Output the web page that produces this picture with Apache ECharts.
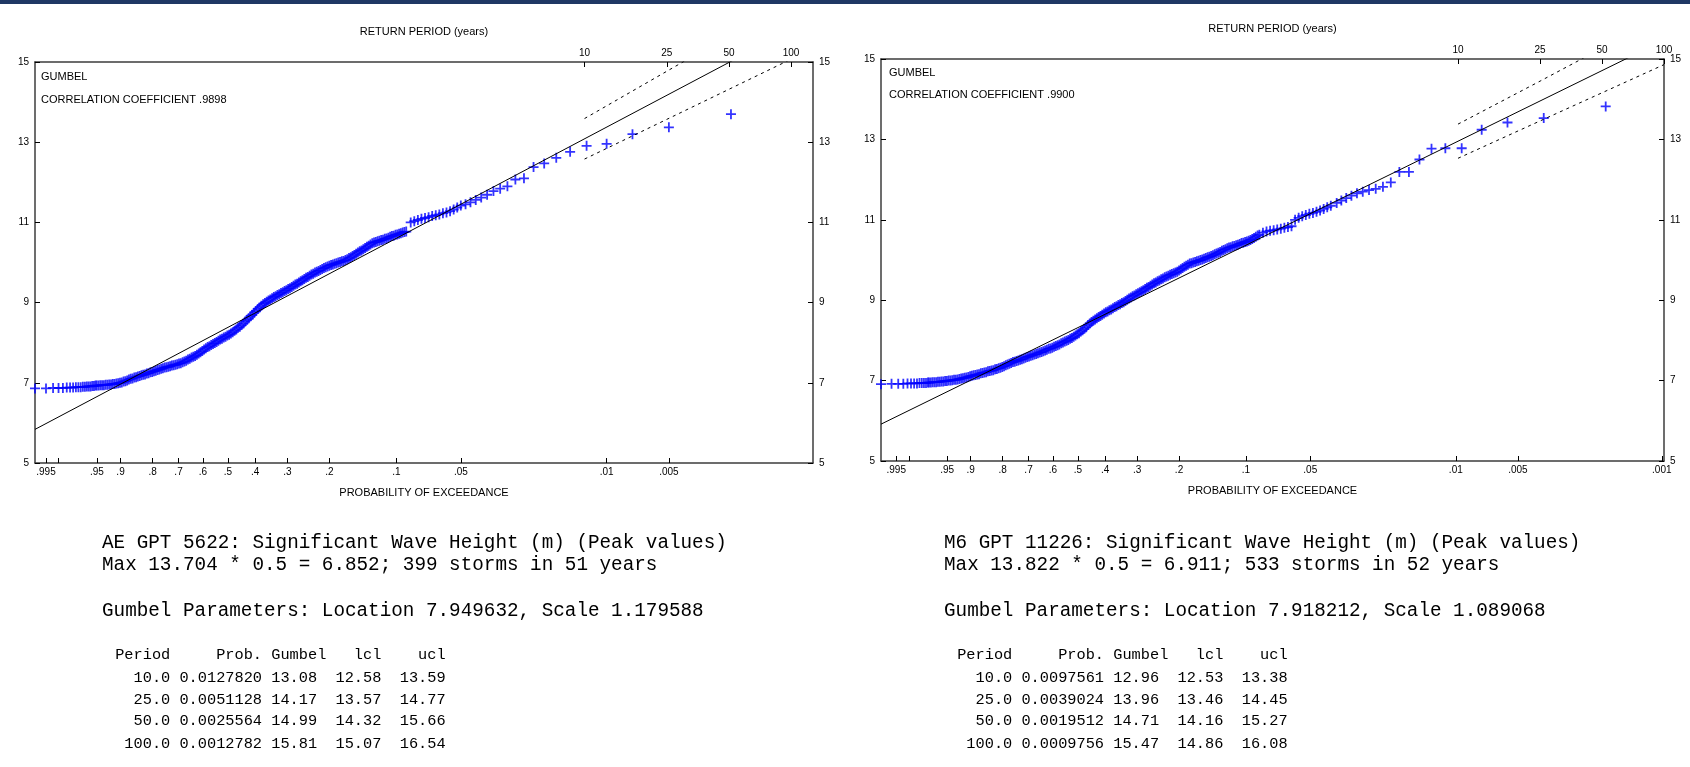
<!DOCTYPE html>
<html>
<head>
<meta charset="utf-8">
<script src="https://cdn.jsdelivr.net/npm/echarts@6/dist/echarts.min.js"></script>
<style>
html, body { margin: 0; padding: 0; background: #fff; }
#main { width: 1690px; height: 767px; }
</style>
</head>
<body>
<div id="main"></div>
<script>
// probability of exceedance ticks on the bottom axis
var probTicks = [0.995, 0.99, 0.95, 0.9, 0.8, 0.7, 0.6, 0.5, 0.4, 0.3, 0.2, 0.1, 0.05, 0.01, 0.005, 0.001];
var probLabels = ['.995', '', '.95', '.9', '.8', '.7', '.6', '.5', '.4', '.3', '.2', '.1', '.05', '.01', '.005', '.001'];
var returnPeriods = [10, 25, 50, 100];

// AE GPT 5622  [gumbel reduced variate, Hs (m)]
var aePoints = [
  [-1.790, 6.86], [-1.667, 6.86], [-1.588, 6.87], [-1.527, 6.87], [-1.478, 6.87], [-1.435, 6.88], [-1.398, 6.88],
  [-1.364, 6.88], [-1.333, 6.89], [-1.305, 6.89], [-1.279, 6.89], [-1.255, 6.90], [-1.232, 6.90], [-1.210, 6.91],
  [-1.189, 6.91], [-1.169, 6.91], [-1.150, 6.92], [-1.131, 6.92], [-1.114, 6.93],
  [-1.10, 6.93], [-1.08, 6.93], [-1.06, 6.94], [-1.04, 6.94], [-1.02, 6.94], [-1.00, 6.95], [-0.98, 6.95],
  [-0.96, 6.96], [-0.94, 6.96], [-0.92, 6.97], [-0.90, 6.97], [-0.88, 6.98], [-0.86, 6.99], [-0.84, 7.00],
  [-0.82, 7.01], [-0.80, 7.03], [-0.78, 7.04], [-0.76, 7.06], [-0.74, 7.08], [-0.72, 7.10], [-0.70, 7.11],
  [-0.68, 7.13], [-0.66, 7.14], [-0.64, 7.16], [-0.62, 7.17], [-0.60, 7.19], [-0.58, 7.20], [-0.56, 7.21],
  [-0.54, 7.23], [-0.52, 7.24], [-0.50, 7.26], [-0.48, 7.27], [-0.46, 7.29], [-0.44, 7.30], [-0.42, 7.32],
  [-0.40, 7.33], [-0.38, 7.35], [-0.36, 7.36], [-0.34, 7.38], [-0.32, 7.39], [-0.30, 7.40], [-0.28, 7.41],
  [-0.26, 7.43], [-0.24, 7.44], [-0.22, 7.45], [-0.20, 7.46], [-0.18, 7.48], [-0.16, 7.49], [-0.14, 7.51],
  [-0.12, 7.53], [-0.10, 7.55], [-0.08, 7.58], [-0.06, 7.60], [-0.04, 7.63], [-0.02, 7.65], [0.00, 7.67],
  [0.02, 7.70], [0.04, 7.73], [0.06, 7.76], [0.08, 7.79], [0.10, 7.83], [0.12, 7.86], [0.14, 7.89], [0.16, 7.91],
  [0.18, 7.94], [0.20, 7.97], [0.22, 7.99], [0.24, 8.02], [0.26, 8.05], [0.28, 8.08], [0.30, 8.10], [0.32, 8.13],
  [0.34, 8.15], [0.36, 8.18], [0.38, 8.20], [0.40, 8.23], [0.42, 8.26], [0.44, 8.30], [0.46, 8.33], [0.48, 8.37],
  [0.50, 8.40], [0.52, 8.44], [0.54, 8.48], [0.56, 8.53], [0.58, 8.57], [0.60, 8.61], [0.62, 8.66], [0.64, 8.70],
  [0.66, 8.75], [0.68, 8.79], [0.70, 8.84], [0.72, 8.88], [0.74, 8.92], [0.76, 8.96], [0.78, 8.99], [0.80, 9.02],
  [0.82, 9.05], [0.84, 9.08], [0.86, 9.11], [0.88, 9.14], [0.90, 9.16], [0.92, 9.19], [0.94, 9.21], [0.96, 9.24],
  [0.98, 9.26], [1.00, 9.29], [1.02, 9.31], [1.04, 9.34], [1.06, 9.36], [1.08, 9.39], [1.10, 9.42], [1.12, 9.45],
  [1.14, 9.47], [1.16, 9.50], [1.18, 9.53], [1.20, 9.56], [1.22, 9.59], [1.24, 9.62], [1.26, 9.64], [1.28, 9.67],
  [1.30, 9.70], [1.32, 9.72], [1.34, 9.75], [1.36, 9.77], [1.38, 9.79], [1.40, 9.81], [1.42, 9.84], [1.44, 9.86],
  [1.46, 9.88], [1.48, 9.90], [1.50, 9.92], [1.52, 9.94], [1.54, 9.95], [1.56, 9.97], [1.58, 9.98], [1.60, 10.00],
  [1.62, 10.01], [1.64, 10.03], [1.66, 10.04], [1.68, 10.06], [1.70, 10.08], [1.72, 10.11], [1.74, 10.13],
  [1.76, 10.16], [1.78, 10.19], [1.80, 10.22], [1.82, 10.25], [1.84, 10.28], [1.86, 10.30], [1.88, 10.33],
  [1.90, 10.36], [1.92, 10.39], [1.94, 10.42], [1.96, 10.45], [1.98, 10.48], [2.00, 10.50], [2.02, 10.51],
  [2.04, 10.53], [2.06, 10.54], [2.08, 10.56], [2.10, 10.57], [2.12, 10.59], [2.14, 10.60], [2.16, 10.62],
  [2.18, 10.64], [2.20, 10.66], [2.22, 10.67], [2.24, 10.69], [2.26, 10.70], [2.28, 10.72], [2.30, 10.73],
  [2.32, 10.75], [2.34, 10.76], [2.36, 10.77],
  [2.41, 11.00], [2.45, 11.03], [2.49, 11.06], [2.53, 11.09], [2.57, 11.11], [2.61, 11.13], [2.65, 11.16],
  [2.69, 11.18], [2.73, 11.20], [2.77, 11.23], [2.81, 11.25], [2.85, 11.28], [2.89, 11.32], [2.93, 11.37],
  [2.970, 11.42], [3.023, 11.45], [3.078, 11.50], [3.137, 11.56], [3.198, 11.62], [3.264, 11.69], [3.335, 11.78],
  [3.410, 11.84], [3.491, 11.90], [3.580, 12.07], [3.676, 12.10], [3.783, 12.38], [3.902, 12.47], [4.037, 12.61],
  [4.192, 12.76], [4.376, 12.91], [4.600, 12.96], [4.889, 13.20], [5.296, 13.37], [5.990, 13.70]
];

// M6 GPT 11226
var m6Points = [
  [-1.838, 6.91], [-1.720, 6.92], [-1.645, 6.92], [-1.588, 6.92], [-1.541, 6.93], [-1.502, 6.93], [-1.467, 6.93],
  [-1.435, 6.93], [-1.407, 6.94], [-1.381, 6.94], [-1.357, 6.94], [-1.334, 6.94], [-1.313, 6.95],
  [-1.30, 6.95], [-1.28, 6.95], [-1.26, 6.96], [-1.24, 6.96], [-1.22, 6.96], [-1.20, 6.97], [-1.18, 6.97],
  [-1.16, 6.98], [-1.14, 6.98], [-1.12, 6.99], [-1.10, 6.99], [-1.08, 7.00], [-1.06, 7.00], [-1.04, 7.01],
  [-1.02, 7.02], [-1.00, 7.02], [-0.98, 7.03], [-0.96, 7.04], [-0.94, 7.05], [-0.92, 7.06], [-0.90, 7.07],
  [-0.88, 7.08], [-0.86, 7.09], [-0.84, 7.11], [-0.82, 7.12], [-0.80, 7.13], [-0.78, 7.14], [-0.76, 7.15],
  [-0.74, 7.16], [-0.72, 7.18], [-0.70, 7.19], [-0.68, 7.20], [-0.66, 7.21], [-0.64, 7.23], [-0.62, 7.24],
  [-0.60, 7.25], [-0.58, 7.26], [-0.56, 7.28], [-0.54, 7.29], [-0.52, 7.31], [-0.50, 7.32], [-0.48, 7.34],
  [-0.46, 7.36], [-0.44, 7.38], [-0.42, 7.40], [-0.40, 7.42], [-0.38, 7.44], [-0.36, 7.46], [-0.34, 7.47],
  [-0.32, 7.49], [-0.30, 7.50], [-0.28, 7.52], [-0.26, 7.53], [-0.24, 7.55], [-0.22, 7.57], [-0.20, 7.59],
  [-0.18, 7.60], [-0.16, 7.62], [-0.14, 7.63], [-0.12, 7.65], [-0.10, 7.66], [-0.08, 7.68], [-0.06, 7.70],
  [-0.04, 7.71], [-0.02, 7.73], [0.00, 7.75], [0.02, 7.77], [0.04, 7.79], [0.06, 7.80], [0.08, 7.82],
  [0.10, 7.84], [0.12, 7.86], [0.14, 7.88], [0.16, 7.90], [0.18, 7.93], [0.20, 7.95], [0.22, 7.97], [0.24, 7.99],
  [0.26, 8.01], [0.28, 8.04], [0.30, 8.06], [0.32, 8.09], [0.34, 8.12], [0.36, 8.15], [0.38, 8.18], [0.40, 8.22],
  [0.42, 8.25], [0.44, 8.29], [0.46, 8.33], [0.48, 8.38], [0.50, 8.42], [0.52, 8.46], [0.54, 8.49], [0.56, 8.52],
  [0.58, 8.55], [0.60, 8.58], [0.62, 8.61], [0.64, 8.64], [0.66, 8.67], [0.68, 8.70], [0.70, 8.72], [0.72, 8.75],
  [0.74, 8.77], [0.76, 8.80], [0.78, 8.83], [0.80, 8.85], [0.82, 8.88], [0.84, 8.90], [0.86, 8.93], [0.88, 8.95],
  [0.90, 8.98], [0.92, 9.01], [0.94, 9.04], [0.96, 9.07], [0.98, 9.10], [1.00, 9.12], [1.02, 9.15], [1.04, 9.17],
  [1.06, 9.20], [1.08, 9.22], [1.10, 9.25], [1.12, 9.28], [1.14, 9.31], [1.16, 9.33], [1.18, 9.36], [1.20, 9.39],
  [1.22, 9.42], [1.24, 9.44], [1.26, 9.47], [1.28, 9.49], [1.30, 9.52], [1.32, 9.54], [1.34, 9.57], [1.36, 9.59],
  [1.38, 9.61], [1.40, 9.63], [1.42, 9.65], [1.44, 9.67], [1.46, 9.69], [1.48, 9.71], [1.50, 9.74], [1.52, 9.77],
  [1.54, 9.80], [1.56, 9.83], [1.58, 9.86], [1.60, 9.88], [1.62, 9.91], [1.64, 9.92], [1.66, 9.94], [1.68, 9.95],
  [1.70, 9.97], [1.72, 9.98], [1.74, 10.00], [1.76, 10.01], [1.78, 10.03], [1.80, 10.05], [1.82, 10.07],
  [1.84, 10.08], [1.86, 10.10], [1.88, 10.12], [1.90, 10.14], [1.92, 10.16], [1.94, 10.18], [1.96, 10.20],
  [1.98, 10.23], [2.00, 10.25], [2.02, 10.27], [2.04, 10.29], [2.06, 10.31], [2.08, 10.32], [2.10, 10.34],
  [2.12, 10.35], [2.14, 10.37], [2.16, 10.38], [2.18, 10.40], [2.20, 10.42], [2.22, 10.43], [2.24, 10.45],
  [2.26, 10.46], [2.28, 10.48], [2.30, 10.50], [2.32, 10.52], [2.34, 10.55], [2.36, 10.58], [2.38, 10.61],
  [2.40, 10.63], [2.44, 10.68], [2.48, 10.71], [2.52, 10.73], [2.56, 10.74], [2.60, 10.76], [2.64, 10.78],
  [2.68, 10.80], [2.72, 10.82], [2.76, 10.84], [2.80, 11.00], [2.84, 11.05], [2.88, 11.09], [2.92, 11.12],
  [2.96, 11.15], [3.00, 11.17], [3.04, 11.20], [3.08, 11.23], [3.12, 11.27], [3.16, 11.31], [3.20, 11.35],
  [3.266, 11.42], [3.318, 11.48], [3.373, 11.54], [3.431, 11.60], [3.493, 11.66], [3.558, 11.70], [3.628, 11.74],
  [3.703, 11.77], [3.784, 11.82], [3.872, 11.93], [3.968, 12.19], [4.075, 12.19], [4.193, 12.50], [4.328, 12.77],
  [4.483, 12.78], [4.666, 12.78], [4.890, 13.24], [5.179, 13.42], [5.585, 13.53], [6.279, 13.82]
];

// fitted parameters and return level tables
var aeGumbel = { location: 7.949632, scale: 1.179588 };
var aeProb = [0.0127820, 0.0051128, 0.0025564, 0.0012782];
var aeLevel = [13.08, 14.17, 14.99, 15.81];
var aeLcl = [12.58, 13.57, 14.32, 15.07];
var aeUcl = [13.59, 14.77, 15.66, 16.54];

var m6Gumbel = { location: 7.918212, scale: 1.089068 };
var m6Prob = [0.0097561, 0.0039024, 0.0019512, 0.0009756];
var m6Level = [12.96, 13.96, 14.71, 15.47];
var m6Lcl = [12.53, 13.46, 14.16, 14.86];
var m6Ucl = [13.38, 14.45, 15.27, 16.08];

var aeText = [
  'AE GPT 5622: Significant Wave Height (m) (Peak values)',
  'Max 13.704 * 0.5 = 6.852; 399 storms in 51 years',
  'Gumbel Parameters: Location 7.949632, Scale 1.179588'
];
var m6Text = [
  'M6 GPT 11226: Significant Wave Height (m) (Peak values)',
  'Max 13.822 * 0.5 = 6.911; 533 storms in 52 years',
  'Gumbel Parameters: Location 7.918212, Scale 1.089068'
];

function variate(p) {
  return -Math.log(-Math.log(1 - p));
}

var sans = '"Liberation Sans", Arial, sans-serif';
var mono = '"Liberation Mono", "Courier New", monospace';
var axisColor = '#3c3c3c';

var chartDom = document.getElementById('main');
var myChart = echarts.init(chartDom);

function buildAxes(g, xmin, xmax, probs) {
  var tickVals = probTicks.map(variate);
  var labelVals = [];
  var labelText = [];
  probTicks.forEach(function (p, i) {
    if (probLabels[i]) { labelVals.push(variate(p)); labelText.push(probLabels[i]); }
  });
  var topVals = probs.map(variate);
  function lookup(vals, texts, v) {
    for (var i = 0; i < vals.length; i++) {
      if (Math.abs(vals[i] - v) < 1e-6) return texts[i];
    }
    return '';
  }
  var line = { show: true, onZero: false, lineStyle: { color: axisColor, width: 1.5 } };
  var tick = { show: true, inside: true, length: 5, lineStyle: { color: '#000', width: 1 } };
  var xBottom = {
    type: 'value', gridIndex: g, position: 'bottom', min: xmin, max: xmax,
    name: 'PROBABILITY OF EXCEEDANCE', nameLocation: 'middle', nameGap: 24,
    nameTextStyle: { fontFamily: sans, fontSize: 11, color: '#000' },
    axisLine: line,
    axisTick: Object.assign({ customValues: tickVals }, tick),
    axisLabel: {
      customValues: labelVals, margin: 4, fontFamily: sans, fontSize: 10, color: '#000',
      formatter: function (v) { return lookup(labelVals, labelText, v); }
    },
    splitLine: { show: false }
  };
  var xTop = {
    type: 'value', gridIndex: g, position: 'top', min: xmin, max: xmax,
    name: 'RETURN PERIOD (years)', nameLocation: 'middle', nameGap: 25,
    nameTextStyle: { fontFamily: sans, fontSize: 11, color: '#000' },
    axisLine: line,
    axisTick: Object.assign({ customValues: topVals }, tick),
    axisLabel: {
      customValues: topVals, margin: 4, fontFamily: sans, fontSize: 10, color: '#000',
      formatter: function (v) { return lookup(topVals, returnPeriods.map(String), v); }
    },
    splitLine: { show: false }
  };
  function yAxis(pos) {
    return {
      type: 'value', gridIndex: g, position: pos, min: 5, max: 15, interval: 2,
      axisLine: line, axisTick: tick,
      axisLabel: { margin: 6, fontFamily: sans, fontSize: 10, color: '#000' },
      splitLine: { show: false }
    };
  }
  return { x: [xBottom, xTop], y: [yAxis('left'), yAxis('right')] };
}

var plusSymbol = 'path://M4.1,0h1.8v10h-1.8zM0,4.1h10v1.8h-10z';

function buildSeries(axisIdx, points, fit, xmin, xmax, probs, lcl, ucl) {
  var fitLine = [xmin, xmax].map(function (v) { return [v, fit.location + fit.scale * v]; });
  var lower = probs.map(function (p, i) { return [variate(p), lcl[i]]; });
  var upper = probs.map(function (p, i) { return [variate(p), ucl[i]]; });
  var base = { xAxisIndex: axisIdx.x, yAxisIndex: axisIdx.y, silent: true };
  return [
    Object.assign({
      type: 'scatter', data: points, symbol: plusSymbol, symbolSize: 10,
      itemStyle: { color: '#0000ff' }, z: 2
    }, base),
    Object.assign({
      type: 'line', data: fitLine, symbol: 'none', clip: true,
      lineStyle: { color: '#000', width: 1 }, z: 3
    }, base),
    Object.assign({
      type: 'line', data: lower, symbol: 'none', clip: true,
      lineStyle: { color: '#000', width: 1, type: [3, 4] }, z: 3
    }, base),
    Object.assign({
      type: 'line', data: upper, symbol: 'none', clip: true,
      lineStyle: { color: '#000', width: 1, type: [3, 4] }, z: 3
    }, base)
  ];
}

function tableLines(probs, level, lcl, ucl) {
  var lines = [' Period     Prob. Gumbel   lcl    ucl'];
  returnPeriods.forEach(function (t, i) {
    lines.push(t.toFixed(1).padStart(7) + ' ' + probs[i].toFixed(7) + ' ' +
      level[i].toFixed(2).padStart(5) + lcl[i].toFixed(2).padStart(7) + ucl[i].toFixed(2).padStart(7));
  });
  return lines;
}

function textBlock(x, tableX, header, table) {
  var ys = [543, 565, 611];
  var rowYs = [655, 678, 700, 721, 744];
  var els = [];
  header.forEach(function (t, i) {
    els.push({ type: 'text', x: x, y: ys[i], style: { text: t, font: '19.3px ' + mono, fill: '#000', verticalAlign: 'middle' } });
  });
  table.forEach(function (t, i) {
    els.push({ type: 'text', x: tableX, y: rowYs[i], style: { text: t, font: '15.3px ' + mono, fill: '#000', verticalAlign: 'middle' } });
  });
  return els;
}

var aeMin = -1.790, aeMax = 6.907;
var m6Min = -1.838, m6Max = 6.932;

var aeAxes = buildAxes(0, aeMin, aeMax, aeProb);
var m6Axes = buildAxes(1, m6Min, m6Max, m6Prob);

var option = {
  animation: false,
  backgroundColor: '#fff',
  grid: [
    { left: 35, top: 62, width: 778, height: 401, outerBoundsMode: 'none' },
    { left: 881, top: 59, width: 783, height: 402, outerBoundsMode: 'none' }
  ],
  xAxis: aeAxes.x.concat(m6Axes.x),
  yAxis: aeAxes.y.concat(m6Axes.y),
  series: buildSeries({ x: 0, y: 0 }, aePoints, aeGumbel, aeMin, aeMax, aeProb, aeLcl, aeUcl)
    .concat(buildSeries({ x: 2, y: 2 }, m6Points, m6Gumbel, m6Min, m6Max, m6Prob, m6Lcl, m6Ucl)),
  graphic: [
    { type: 'rect', shape: { x: 0, y: 0, width: 1690, height: 4 }, style: { fill: '#1f3864' } },
    { type: 'text', x: 41, y: 77, style: { text: 'GUMBEL', font: '11px ' + sans, fill: '#000', verticalAlign: 'middle' } },
    { type: 'text', x: 41, y: 100, style: { text: 'CORRELATION COEFFICIENT .9898', font: '11px ' + sans, fill: '#000', verticalAlign: 'middle' } },
    { type: 'text', x: 889, y: 73, style: { text: 'GUMBEL', font: '11px ' + sans, fill: '#000', verticalAlign: 'middle' } },
    { type: 'text', x: 889, y: 95, style: { text: 'CORRELATION COEFFICIENT .9900', font: '11px ' + sans, fill: '#000', verticalAlign: 'middle' } }
  ].concat(textBlock(102, 106, aeText, tableLines(aeProb, aeLevel, aeLcl, aeUcl)))
   .concat(textBlock(944, 948, m6Text, tableLines(m6Prob, m6Level, m6Lcl, m6Ucl)))
};

myChart.setOption(option);

window.addEventListener('resize', function () {
  myChart.resize();
});
</script>
</body>
</html>
